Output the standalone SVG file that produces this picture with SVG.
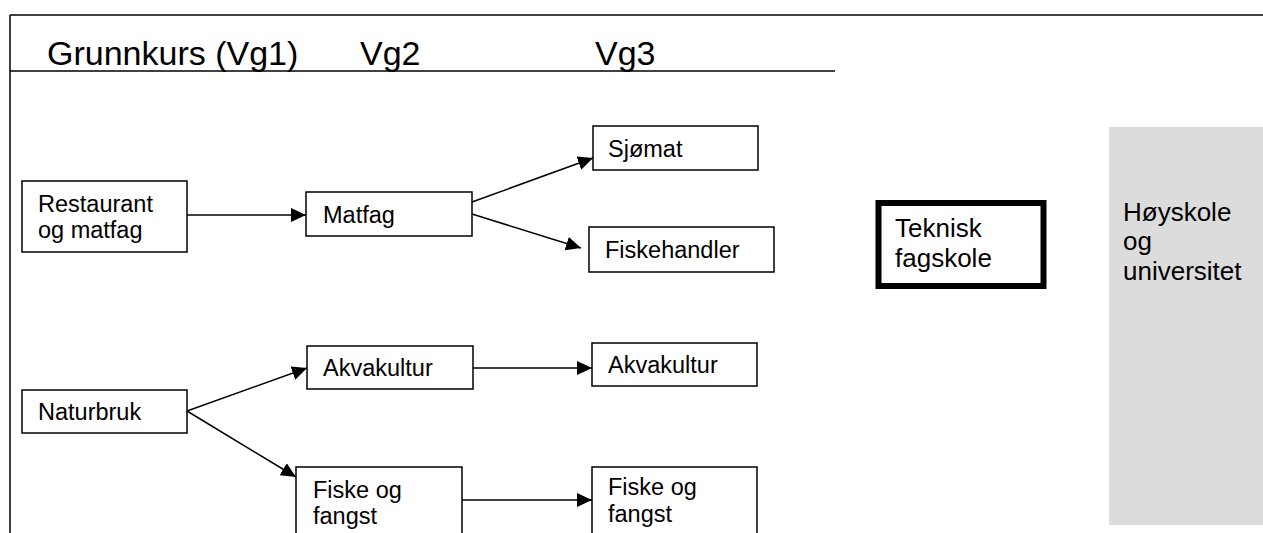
<svg xmlns="http://www.w3.org/2000/svg" width="1263" height="533" viewBox="0 0 1263 533">
<defs>
<style>
text{font-family:"Liberation Sans",Arial,sans-serif;fill:#000}
.h{font-size:34px}
.t{font-size:23.5px}
.b{font-size:26px}
.box{fill:#fff;stroke:#000;stroke-width:1.5}
.ln{stroke:#000;stroke-width:1.5;fill:none}
</style>
<marker id="ah" viewBox="0 0 15 14" refX="15" refY="7" markerWidth="15" markerHeight="14" markerUnits="userSpaceOnUse" orient="auto">
<path d="M0,0 L15,7 L0,14 Z" fill="#000"/>
</marker>
</defs>
<rect width="1263" height="533" fill="#fff"/>
<g id="frame">
<line class="ln" x1="10" y1="15" x2="1263" y2="15" stroke-width="2"/>
<line class="ln" x1="10" y1="15" x2="10" y2="533" stroke-width="2"/>
<line class="ln" x1="10" y1="71" x2="835" y2="71" stroke-width="2"/>
<text class="h" x="47" y="65">Grunnkurs (Vg1)</text>
<text class="h" x="360" y="65">Vg2</text>
<text class="h" x="595" y="65">Vg3</text>
</g>
<g id="connectors">
<line class="ln" x1="187" y1="215" x2="306" y2="215" marker-end="url(#ah)"/>
<line class="ln" x1="472" y1="202" x2="593" y2="158" marker-end="url(#ah)"/>
<line class="ln" x1="472" y1="214" x2="581" y2="248" marker-end="url(#ah)"/>
<line class="ln" x1="187" y1="411" x2="307" y2="368" marker-end="url(#ah)"/>
<line class="ln" x1="187" y1="411" x2="296" y2="477" marker-end="url(#ah)"/>
<line class="ln" x1="472" y1="368" x2="592" y2="368" marker-end="url(#ah)"/>
<line class="ln" x1="461" y1="500" x2="592" y2="500" marker-end="url(#ah)"/>
</g>
<g id="restaurant">
<rect class="box" x="22" y="181" width="165" height="71"/>
<text class="t" x="38" y="212">Restaurant</text>
<text class="t" x="38" y="238">og matfag</text>
</g>
<g id="matfag">
<rect class="box" x="306" y="192" width="166" height="44"/>
<text class="t" x="323" y="223">Matfag</text>
</g>
<g id="sjomat">
<rect class="box" x="593" y="126" width="165" height="44"/>
<text class="t" x="608" y="157">Sjømat</text>
</g>
<g id="fiskehandler">
<rect class="box" x="589" y="227" width="185" height="45"/>
<text class="t" x="605" y="258">Fiskehandler</text>
</g>
<g id="naturbruk">
<rect class="box" x="22" y="390" width="165" height="43"/>
<text class="t" x="38" y="420">Naturbruk</text>
</g>
<g id="akvakultur2">
<rect class="box" x="307" y="346" width="166" height="43"/>
<text class="t" x="323" y="376">Akvakultur</text>
</g>
<g id="akvakultur3">
<rect class="box" x="592" y="343" width="165" height="43"/>
<text class="t" x="608" y="373">Akvakultur</text>
</g>
<g id="fiske2">
<rect class="box" x="296" y="467" width="166" height="80"/>
<text class="t" x="313" y="498">Fiske og</text>
<text class="t" x="313" y="524">fangst</text>
</g>
<g id="fiske3">
<rect class="box" x="592" y="467" width="165" height="80"/>
<text class="t" x="608" y="495">Fiske og</text>
<text class="t" x="608" y="522">fangst</text>
</g>
<g id="teknisk">
<rect x="878.5" y="203" width="165" height="83" fill="#fff" stroke="#000" stroke-width="6"/>
<text class="b" x="895" y="237">Teknisk</text>
<text class="b" x="895" y="267">fagskole</text>
</g>
<g id="hoyskole">
<rect x="1109" y="127" width="154" height="398" fill="#dcdcdc"/>
<text class="b" x="1123" y="221">Høyskole</text>
<text class="b" x="1123" y="250">og</text>
<text class="b" x="1123" y="280">universitet</text>
</g>
</svg>
